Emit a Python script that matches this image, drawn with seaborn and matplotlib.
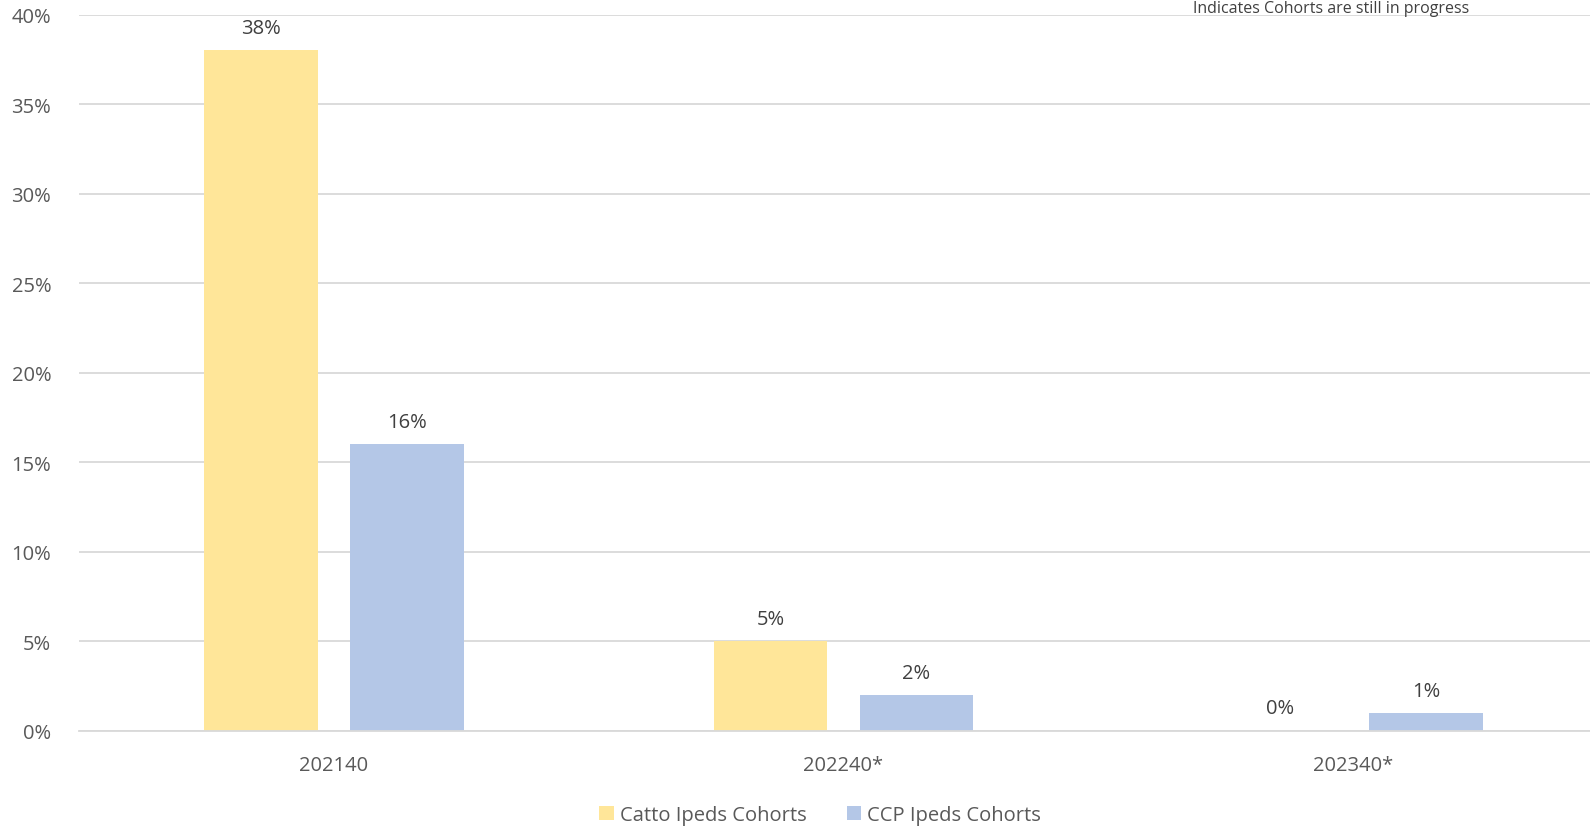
import matplotlib.pyplot as plt
import pandas as pd
import seaborn as sns
from matplotlib.ticker import PercentFormatter

cohorts = ["202140", "202240*", "202340*"]
catto = [38, 5, 0]
ccp = [16, 2, 1]
series = ["Catto Ipeds Cohorts", "CCP Ipeds Cohorts"]
colors = ["#FFE699", "#B4C7E7"]
note = "Indicates Cohorts are still in progress"

df = pd.DataFrame({
    "cohort": cohorts * 2,
    "value": catto + ccp,
    "series": [series[0]] * 3 + [series[1]] * 3,
})

sns.set_theme(style="white")
plt.rcParams["font.family"] = ["Open Sans", "DejaVu Sans"]
text_color = "#595959"
fs = 14.5

fig = plt.figure(figsize=(15.9, 8.28), dpi=100)
ax = fig.add_axes([79 / 1590, 1 - 732 / 828, 1529 / 1590, (732 - 15.5) / 828])

sns.barplot(data=df, x="cohort", y="value", hue="series", palette=colors,
            saturation=1, linewidth=0, width=0.572, gap=0.22, ax=ax,
            legend=True)

ax.set_ylim(0, 40)
ax.set_xlim(-0.5, 2.5)
ax.set_yticks(range(0, 41, 5))
ax.yaxis.set_major_formatter(PercentFormatter(decimals=0))
ax.grid(axis="y", color="#D9D9D9", linewidth=1.3)
ax.set_axisbelow(True)
for s in ["top", "right", "left"]:
    ax.spines[s].set_visible(False)
ax.spines["bottom"].set_color("#D9D9D9")
ax.spines["bottom"].set_linewidth(1.3)
ax.tick_params(axis="both", length=0, labelsize=fs, colors=text_color)
ax.tick_params(axis="x", pad=17)
ax.tick_params(axis="y", pad=20)
ax.set_xlabel("")
ax.set_ylabel("")

for cont in ax.containers:
    ax.bar_label(cont, fmt="%d%%", padding=9, fontsize=fs, color="#404040")

ax.legend(loc="center", bbox_to_anchor=(820 / 1590, 12 / 828),
          bbox_transform=fig.transFigure, ncol=2, frameon=False,
          fontsize=fs, handlelength=0.7, handleheight=0.7,
          handletextpad=0.3, columnspacing=2.0, labelcolor=text_color)

fig.text(1331 / 1590, 1 - 1 / 828, note, ha="center", va="top",
         fontsize=fs - 3, color="#404040")

fig.savefig("out.png", dpi=100)
